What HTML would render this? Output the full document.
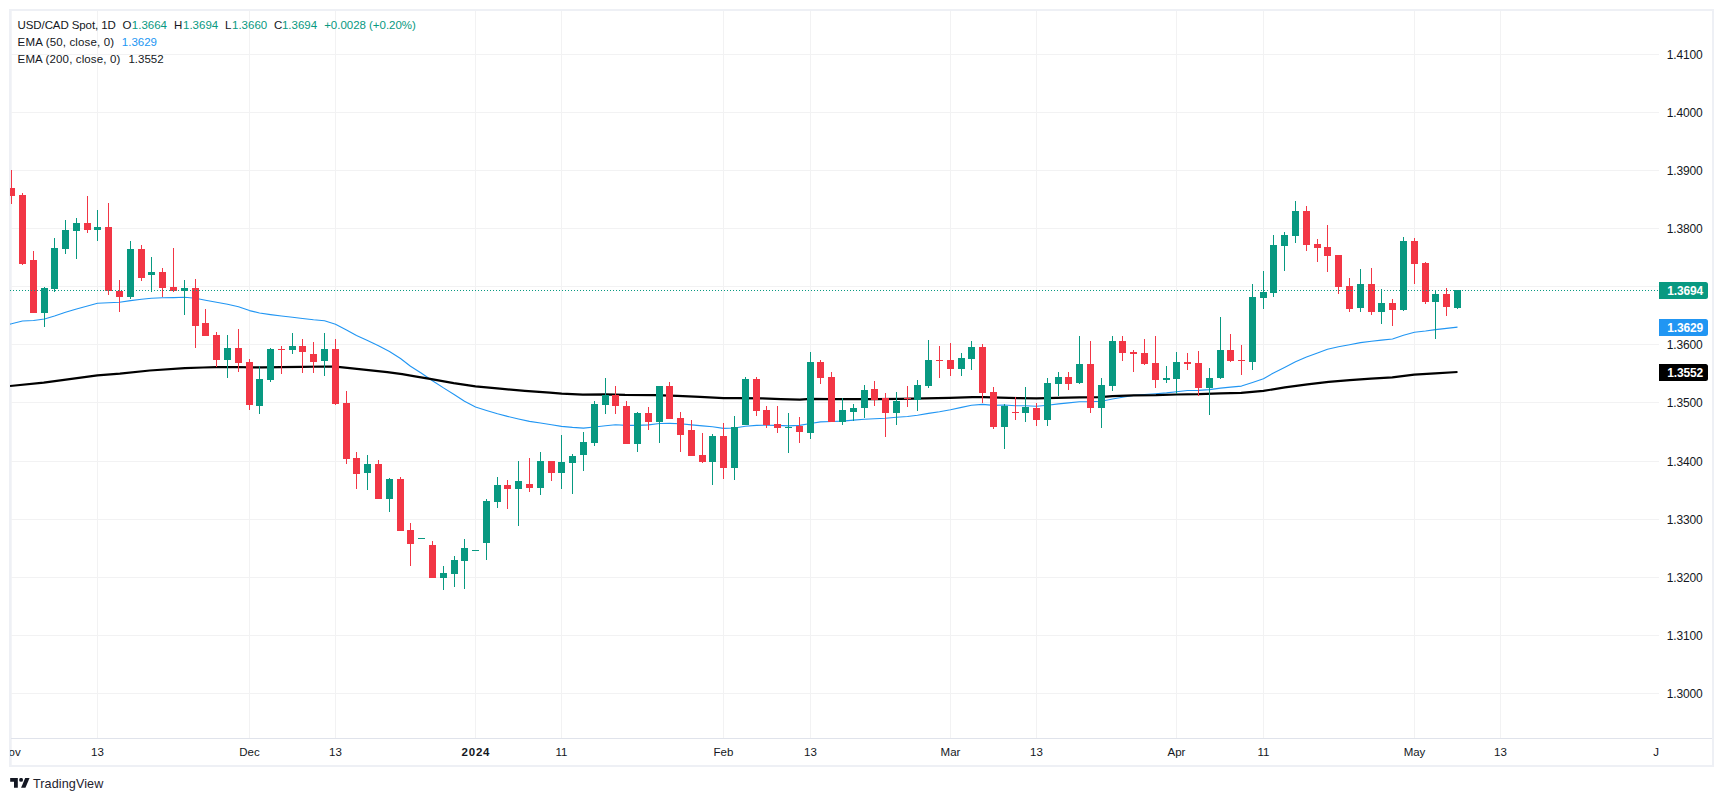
<!DOCTYPE html>
<html lang="en"><head><meta charset="utf-8"><title>USD/CAD Spot 1D - TradingView</title>
<style>
html,body{margin:0;padding:0;background:#fff;}
body{width:1723px;height:801px;position:relative;overflow:hidden;font-family:"Liberation Sans",sans-serif;font-size:12px;color:#131722;}
#frame{position:absolute;left:9px;top:9px;width:1701px;height:754px;border:2px solid #eef0f5;}
#chart{position:absolute;left:0;top:0;}
.lg{position:absolute;left:0;white-space:nowrap;line-height:16px;height:16px;font-size:11.5px;}
.lg span{position:absolute;top:0;white-space:nowrap;}
.g{color:#089981} .bl{color:#2196f3}
#taxis{position:absolute;left:10px;top:739px;width:1649px;font-size:11.5px;height:26px;overflow:hidden;}
#tline{position:absolute;left:11px;top:738px;width:1701px;height:1px;background:#e0e3eb;}
.tl{position:absolute;top:6px;width:60px;text-align:center;line-height:14px;white-space:nowrap;}
.tl.b{font-weight:bold;letter-spacing:0.8px;text-indent:0.8px}
.pl{position:absolute;left:1666.7px;line-height:14px;white-space:nowrap;font-size:12px;letter-spacing:-0.15px}
.tag{position:absolute;left:1659px;width:49px;height:17px;line-height:18px;color:#fff;font-weight:bold;border-radius:0 2.5px 2.5px 0;text-indent:8.2px;white-space:nowrap;font-size:12px;letter-spacing:-0.15px;overflow:hidden}
#logo{position:absolute;left:10px;top:778px;}
#brand{position:absolute;left:33px;top:776px;letter-spacing:0.1px;font-size:12.6px;line-height:16px;color:#1e222d;white-space:nowrap;}
</style></head><body>
<div id="frame"></div><div style="position:absolute;left:11px;top:11px;width:1px;height:754px;background:#f3f4f7"></div>
<svg id="chart" width="1723" height="801" viewBox="0 0 1723 801">
<defs><clipPath id="pc"><rect x="10" y="11" width="1649" height="727"/></clipPath></defs>
<rect x="11" y="54" width="1648" height="1" fill="#f2f2f3"/>
<rect x="11" y="112" width="1648" height="1" fill="#f2f2f3"/>
<rect x="11" y="170" width="1648" height="1" fill="#f2f2f3"/>
<rect x="11" y="228" width="1648" height="1" fill="#f2f2f3"/>
<rect x="11" y="286" width="1648" height="1" fill="#f2f2f3"/>
<rect x="11" y="344" width="1648" height="1" fill="#f2f2f3"/>
<rect x="11" y="402" width="1648" height="1" fill="#f2f2f3"/>
<rect x="11" y="461" width="1648" height="1" fill="#f2f2f3"/>
<rect x="11" y="519" width="1648" height="1" fill="#f2f2f3"/>
<rect x="11" y="577" width="1648" height="1" fill="#f2f2f3"/>
<rect x="11" y="635" width="1648" height="1" fill="#f2f2f3"/>
<rect x="11" y="693" width="1648" height="1" fill="#f2f2f3"/>
<rect x="97" y="11" width="1" height="727" fill="#f2f2f3"/>
<rect x="249" y="11" width="1" height="727" fill="#f2f2f3"/>
<rect x="335" y="11" width="1" height="727" fill="#f2f2f3"/>
<rect x="475" y="11" width="1" height="727" fill="#f2f2f3"/>
<rect x="561" y="11" width="1" height="727" fill="#f2f2f3"/>
<rect x="723" y="11" width="1" height="727" fill="#f2f2f3"/>
<rect x="810" y="11" width="1" height="727" fill="#f2f2f3"/>
<rect x="950" y="11" width="1" height="727" fill="#f2f2f3"/>
<rect x="1036" y="11" width="1" height="727" fill="#f2f2f3"/>
<rect x="1176" y="11" width="1" height="727" fill="#f2f2f3"/>
<rect x="1263" y="11" width="1" height="727" fill="#f2f2f3"/>
<rect x="1414" y="11" width="1" height="727" fill="#f2f2f3"/>
<rect x="1500" y="11" width="1" height="727" fill="#f2f2f3"/>
<g clip-path="url(#pc)" fill="none" stroke-linejoin="round" stroke-linecap="butt">
<path d="M10 324.1 L11.5 323.8 L22.5 321 L33.5 320.5 L44.5 319 L54.5 316 L65.5 312.3 L76.5 309 L87.5 306 L97.5 303.3 L108.5 302.8 L119.5 302.3 L130.5 300.6 L141.5 299.3 L151.5 298.3 L162.5 297.8 L173.5 297.6 L184.5 297.3 L195.5 298.3 L205.5 300.3 L216.5 302.3 L227.5 304.3 L238.5 306.8 L249.5 310.6 L259.5 313 L270.5 314.6 L281.5 316 L292.5 317.3 L302.5 318.5 L313.5 319.8 L324.5 320.8 L335.5 324.2 L346.5 330 L356.5 335.6 L367.5 340.5 L378.5 345.8 L389.5 351.5 L400.5 358.5 L410.5 366.2 L421.5 373.2 L432.5 380.7 L443.5 387.9 L454.5 394.7 L464.5 401.2 L475.5 407 L486.5 410.5 L497.5 413.8 L507.5 416.4 L518.5 419 L529.5 421.4 L540.5 423 L551.5 424.8 L561.5 426.4 L572.5 427.4 L583.5 428.1 L594.5 427 L605.5 425.8 L615.5 424.7 L626.5 425.4 L637.5 425.4 L648.5 424.9 L659.5 423.5 L669.5 423.4 L680.5 423.7 L691.5 424.9 L702.5 425.9 L712.5 426.7 L723.5 428.4 L734.5 428 L745.5 426.2 L756.5 425.4 L766.5 425.2 L777.5 425.4 L788.5 425.9 L799.5 425.4 L810.5 423.5 L820.5 421.9 L831.5 421.5 L842.5 421.1 L853.5 420.1 L864.5 419.2 L874.5 418.7 L885.5 418.2 L896.5 417.3 L907.5 416.5 L917.5 415.3 L928.5 413.4 L939.5 411.7 L950.5 409.7 L961.5 407.4 L971.5 405.2 L982.5 404.4 L993.5 405.4 L1004.5 405 L1015.5 405.7 L1025.5 405.7 L1036.5 406.3 L1047.5 405.3 L1058.5 403.9 L1068.5 402.9 L1079.5 401.7 L1090.5 401.8 L1101.5 401.3 L1112.5 399 L1122.5 397.2 L1133.5 395.4 L1144.5 394.5 L1155.5 393.7 L1166.5 392.9 L1176.5 391.7 L1187.5 390.5 L1198.5 390.4 L1209.5 389.6 L1220.5 388.1 L1230.5 387.1 L1241.5 386.1 L1252.5 382.4 L1263.5 378.65 L1273.5 373 L1284.5 367.4 L1295.5 361.8 L1306.5 357.05 L1317.5 353.06 L1327.5 349.3 L1338.5 346.8 L1349.5 344.7 L1360.5 342.6 L1371.5 341.3 L1381.5 340.1 L1392.5 338.95 L1403.5 335.2 L1414.5 332.2 L1425.5 331 L1435.5 329.6 L1446.5 328.4 L1457.5 327.1" stroke="#2196f3" stroke-width="1.1"/>
<path d="M10 386 L43.7 382.6 L97.4 375.3 L119.9 373.7 L149.8 370.5 L184.8 368.1 L203 367.5 L216.2 367.2 L237.5 367 L250 367.4 L262.4 367.3 L281.1 367.1 L302.4 366.8 L324.8 366.5 L335.5 366.6 L349.8 368.1 L368.5 370.2 L387.3 372.1 L402.2 374.2 L415 376.4 L430 378.95 L453.7 383.1 L475.5 386.4 L499.9 388.7 L524.8 390.9 L549.8 392.7 L561.7 393.6 L582.9 394.6 L605.4 394.3 L625 394.96 L654.9 395.2 L677.4 395.95 L699.9 396.95 L723.6 398.2 L737.3 398.1 L762.3 398.45 L781 399.2 L799.8 399.7 L810.5 398.8 L831.2 399.05 L850 399.2 L875 399.2 L900 398.9 L924.8 398.4 L949.8 397.8 L972.3 397.2 L983.5 397.2 L999.8 397.7 L1018.7 398.2 L1036.5 398.3 L1056.2 397.8 L1079.9 397.3 L1099.9 397.2 L1112.4 396.2 L1133.6 395.4 L1156 395.2 L1176.7 394.5 L1198.5 394.2 L1220.5 393.4 L1241.2 392.9 L1263.4 390.9 L1284.9 387.4 L1307.4 384.3 L1328.6 381.9 L1349.8 380.15 L1371 378.65 L1392.3 377.4 L1414.2 374.7 L1435.2 373.3 L1457.5 372" stroke="#000" stroke-width="2.2"/>
</g>
<g clip-path="url(#pc)" shape-rendering="crispEdges">
<rect x="11" y="170" width="1" height="34" fill="#f23645"/>
<rect x="8" y="188" width="7" height="8" fill="#f23645"/>
<rect x="22" y="193" width="1" height="72" fill="#f23645"/>
<rect x="19" y="195" width="7" height="69" fill="#f23645"/>
<rect x="33" y="251" width="1" height="62" fill="#f23645"/>
<rect x="30" y="260" width="7" height="53" fill="#f23645"/>
<rect x="44" y="287" width="1" height="40" fill="#089981"/>
<rect x="41" y="288" width="7" height="25" fill="#089981"/>
<rect x="54" y="238" width="1" height="54" fill="#089981"/>
<rect x="51" y="248" width="7" height="41" fill="#089981"/>
<rect x="65" y="220" width="1" height="34" fill="#089981"/>
<rect x="62" y="230" width="7" height="19" fill="#089981"/>
<rect x="76" y="218" width="1" height="41" fill="#089981"/>
<rect x="73" y="223" width="7" height="8" fill="#089981"/>
<rect x="87" y="196" width="1" height="37" fill="#f23645"/>
<rect x="84" y="223" width="7" height="7" fill="#f23645"/>
<rect x="97" y="210" width="1" height="31" fill="#089981"/>
<rect x="94" y="227" width="7" height="3" fill="#089981"/>
<rect x="108" y="203" width="1" height="92" fill="#f23645"/>
<rect x="105" y="227" width="7" height="64" fill="#f23645"/>
<rect x="119" y="280" width="1" height="32" fill="#f23645"/>
<rect x="116" y="291" width="7" height="6" fill="#f23645"/>
<rect x="130" y="241" width="1" height="58" fill="#089981"/>
<rect x="127" y="249" width="7" height="48" fill="#089981"/>
<rect x="141" y="245" width="1" height="36" fill="#f23645"/>
<rect x="138" y="249" width="7" height="29" fill="#f23645"/>
<rect x="151" y="257" width="1" height="35" fill="#089981"/>
<rect x="148" y="272" width="7" height="3" fill="#089981"/>
<rect x="162" y="268" width="1" height="29" fill="#f23645"/>
<rect x="159" y="272" width="7" height="16" fill="#f23645"/>
<rect x="173" y="248" width="1" height="44" fill="#f23645"/>
<rect x="170" y="287" width="7" height="4" fill="#f23645"/>
<rect x="184" y="280" width="1" height="35" fill="#089981"/>
<rect x="181" y="288" width="7" height="3" fill="#089981"/>
<rect x="195" y="279" width="1" height="69" fill="#f23645"/>
<rect x="192" y="288" width="7" height="38" fill="#f23645"/>
<rect x="205" y="309" width="1" height="27" fill="#f23645"/>
<rect x="202" y="323" width="7" height="13" fill="#f23645"/>
<rect x="216" y="332" width="1" height="35" fill="#f23645"/>
<rect x="213" y="335" width="7" height="25" fill="#f23645"/>
<rect x="227" y="335" width="1" height="43" fill="#089981"/>
<rect x="224" y="348" width="7" height="12" fill="#089981"/>
<rect x="238" y="329" width="1" height="43" fill="#f23645"/>
<rect x="235" y="348" width="7" height="15" fill="#f23645"/>
<rect x="249" y="359" width="1" height="51" fill="#f23645"/>
<rect x="246" y="362" width="7" height="43" fill="#f23645"/>
<rect x="259" y="366" width="1" height="48" fill="#089981"/>
<rect x="256" y="379" width="7" height="27" fill="#089981"/>
<rect x="270" y="348" width="1" height="34" fill="#089981"/>
<rect x="267" y="349" width="7" height="31" fill="#089981"/>
<rect x="281" y="346" width="1" height="28" fill="#f23645"/>
<rect x="278" y="349" width="7" height="1" fill="#f23645"/>
<rect x="292" y="333" width="1" height="21" fill="#089981"/>
<rect x="289" y="346" width="7" height="4" fill="#089981"/>
<rect x="302" y="339" width="1" height="34" fill="#f23645"/>
<rect x="299" y="346" width="7" height="6" fill="#f23645"/>
<rect x="313" y="342" width="1" height="31" fill="#f23645"/>
<rect x="310" y="354" width="7" height="8" fill="#f23645"/>
<rect x="324" y="333" width="1" height="43" fill="#089981"/>
<rect x="321" y="349" width="7" height="12" fill="#089981"/>
<rect x="335" y="339" width="1" height="66" fill="#f23645"/>
<rect x="332" y="349" width="7" height="55" fill="#f23645"/>
<rect x="346" y="391" width="1" height="73" fill="#f23645"/>
<rect x="343" y="403" width="7" height="56" fill="#f23645"/>
<rect x="356" y="452" width="1" height="37" fill="#f23645"/>
<rect x="353" y="458" width="7" height="16" fill="#f23645"/>
<rect x="367" y="455" width="1" height="35" fill="#089981"/>
<rect x="364" y="464" width="7" height="9" fill="#089981"/>
<rect x="378" y="460" width="1" height="39" fill="#f23645"/>
<rect x="375" y="464" width="7" height="35" fill="#f23645"/>
<rect x="389" y="478" width="1" height="34" fill="#089981"/>
<rect x="386" y="479" width="7" height="20" fill="#089981"/>
<rect x="400" y="477" width="1" height="54" fill="#f23645"/>
<rect x="397" y="479" width="7" height="52" fill="#f23645"/>
<rect x="410" y="523" width="1" height="43" fill="#f23645"/>
<rect x="407" y="530" width="7" height="14" fill="#f23645"/>
<rect x="421" y="538" width="1" height="1" fill="#089981"/>
<rect x="418" y="538" width="7" height="1" fill="#089981"/>
<rect x="432" y="541" width="1" height="37" fill="#f23645"/>
<rect x="429" y="545" width="7" height="33" fill="#f23645"/>
<rect x="443" y="566" width="1" height="24" fill="#089981"/>
<rect x="440" y="573" width="7" height="5" fill="#089981"/>
<rect x="454" y="556" width="1" height="31" fill="#089981"/>
<rect x="451" y="560" width="7" height="14" fill="#089981"/>
<rect x="464" y="539" width="1" height="50" fill="#089981"/>
<rect x="461" y="548" width="7" height="13" fill="#089981"/>
<rect x="475" y="550" width="1" height="1" fill="#089981"/>
<rect x="472" y="550" width="7" height="1" fill="#089981"/>
<rect x="486" y="499" width="1" height="61" fill="#089981"/>
<rect x="483" y="501" width="7" height="42" fill="#089981"/>
<rect x="497" y="477" width="1" height="31" fill="#089981"/>
<rect x="494" y="485" width="7" height="17" fill="#089981"/>
<rect x="507" y="480" width="1" height="29" fill="#f23645"/>
<rect x="504" y="485" width="7" height="4" fill="#f23645"/>
<rect x="518" y="461" width="1" height="65" fill="#089981"/>
<rect x="515" y="481" width="7" height="8" fill="#089981"/>
<rect x="529" y="458" width="1" height="34" fill="#f23645"/>
<rect x="526" y="484" width="7" height="4" fill="#f23645"/>
<rect x="540" y="452" width="1" height="43" fill="#089981"/>
<rect x="537" y="461" width="7" height="27" fill="#089981"/>
<rect x="551" y="461" width="1" height="20" fill="#f23645"/>
<rect x="548" y="461" width="7" height="12" fill="#f23645"/>
<rect x="561" y="435" width="1" height="54" fill="#089981"/>
<rect x="558" y="462" width="7" height="11" fill="#089981"/>
<rect x="572" y="454" width="1" height="40" fill="#089981"/>
<rect x="569" y="456" width="7" height="7" fill="#089981"/>
<rect x="583" y="432" width="1" height="39" fill="#089981"/>
<rect x="580" y="442" width="7" height="13" fill="#089981"/>
<rect x="594" y="401" width="1" height="45" fill="#089981"/>
<rect x="591" y="404" width="7" height="39" fill="#089981"/>
<rect x="605" y="378" width="1" height="36" fill="#089981"/>
<rect x="602" y="395" width="7" height="10" fill="#089981"/>
<rect x="615" y="386" width="1" height="28" fill="#f23645"/>
<rect x="612" y="395" width="7" height="11" fill="#f23645"/>
<rect x="626" y="401" width="1" height="43" fill="#f23645"/>
<rect x="623" y="406" width="7" height="38" fill="#f23645"/>
<rect x="637" y="412" width="1" height="40" fill="#089981"/>
<rect x="634" y="413" width="7" height="31" fill="#089981"/>
<rect x="648" y="407" width="1" height="23" fill="#f23645"/>
<rect x="645" y="413" width="7" height="9" fill="#f23645"/>
<rect x="659" y="386" width="1" height="57" fill="#089981"/>
<rect x="656" y="386" width="7" height="36" fill="#089981"/>
<rect x="669" y="382" width="1" height="37" fill="#f23645"/>
<rect x="666" y="386" width="7" height="33" fill="#f23645"/>
<rect x="680" y="412" width="1" height="40" fill="#f23645"/>
<rect x="677" y="418" width="7" height="17" fill="#f23645"/>
<rect x="691" y="420" width="1" height="36" fill="#f23645"/>
<rect x="688" y="430" width="7" height="26" fill="#f23645"/>
<rect x="702" y="433" width="1" height="30" fill="#f23645"/>
<rect x="699" y="455" width="7" height="7" fill="#f23645"/>
<rect x="712" y="434" width="1" height="51" fill="#089981"/>
<rect x="709" y="436" width="7" height="26" fill="#089981"/>
<rect x="723" y="423" width="1" height="56" fill="#f23645"/>
<rect x="720" y="436" width="7" height="32" fill="#f23645"/>
<rect x="734" y="416" width="1" height="64" fill="#089981"/>
<rect x="731" y="427" width="7" height="41" fill="#089981"/>
<rect x="745" y="377" width="1" height="48" fill="#089981"/>
<rect x="742" y="379" width="7" height="46" fill="#089981"/>
<rect x="756" y="377" width="1" height="39" fill="#f23645"/>
<rect x="753" y="379" width="7" height="32" fill="#f23645"/>
<rect x="766" y="406" width="1" height="22" fill="#f23645"/>
<rect x="763" y="410" width="7" height="15" fill="#f23645"/>
<rect x="777" y="406" width="1" height="27" fill="#f23645"/>
<rect x="774" y="424" width="7" height="4" fill="#f23645"/>
<rect x="788" y="413" width="1" height="40" fill="#089981"/>
<rect x="785" y="427" width="7" height="1" fill="#089981"/>
<rect x="799" y="417" width="1" height="26" fill="#f23645"/>
<rect x="796" y="426" width="7" height="6" fill="#f23645"/>
<rect x="810" y="352" width="1" height="87" fill="#089981"/>
<rect x="807" y="362" width="7" height="71" fill="#089981"/>
<rect x="820" y="360" width="1" height="24" fill="#f23645"/>
<rect x="817" y="362" width="7" height="16" fill="#f23645"/>
<rect x="831" y="372" width="1" height="50" fill="#f23645"/>
<rect x="828" y="377" width="7" height="45" fill="#f23645"/>
<rect x="842" y="398" width="1" height="27" fill="#089981"/>
<rect x="839" y="410" width="7" height="12" fill="#089981"/>
<rect x="853" y="404" width="1" height="17" fill="#089981"/>
<rect x="850" y="408" width="7" height="4" fill="#089981"/>
<rect x="864" y="385" width="1" height="33" fill="#089981"/>
<rect x="861" y="390" width="7" height="18" fill="#089981"/>
<rect x="874" y="381" width="1" height="25" fill="#f23645"/>
<rect x="871" y="389" width="7" height="11" fill="#f23645"/>
<rect x="885" y="393" width="1" height="44" fill="#f23645"/>
<rect x="882" y="398" width="7" height="15" fill="#f23645"/>
<rect x="896" y="392" width="1" height="33" fill="#089981"/>
<rect x="893" y="401" width="7" height="12" fill="#089981"/>
<rect x="907" y="386" width="1" height="21" fill="#f23645"/>
<rect x="904" y="398" width="7" height="1" fill="#f23645"/>
<rect x="917" y="380" width="1" height="31" fill="#089981"/>
<rect x="914" y="385" width="7" height="15" fill="#089981"/>
<rect x="928" y="340" width="1" height="48" fill="#089981"/>
<rect x="925" y="360" width="7" height="26" fill="#089981"/>
<rect x="939" y="346" width="1" height="32" fill="#f23645"/>
<rect x="936" y="360" width="7" height="1" fill="#f23645"/>
<rect x="950" y="343" width="1" height="33" fill="#f23645"/>
<rect x="947" y="360" width="7" height="9" fill="#f23645"/>
<rect x="961" y="353" width="1" height="23" fill="#089981"/>
<rect x="958" y="358" width="7" height="11" fill="#089981"/>
<rect x="971" y="341" width="1" height="29" fill="#089981"/>
<rect x="968" y="347" width="7" height="12" fill="#089981"/>
<rect x="982" y="344" width="1" height="59" fill="#f23645"/>
<rect x="979" y="347" width="7" height="46" fill="#f23645"/>
<rect x="993" y="387" width="1" height="42" fill="#f23645"/>
<rect x="990" y="392" width="7" height="35" fill="#f23645"/>
<rect x="1004" y="404" width="1" height="45" fill="#089981"/>
<rect x="1001" y="406" width="7" height="21" fill="#089981"/>
<rect x="1015" y="397" width="1" height="23" fill="#f23645"/>
<rect x="1012" y="412" width="7" height="1" fill="#f23645"/>
<rect x="1025" y="387" width="1" height="35" fill="#089981"/>
<rect x="1022" y="407" width="7" height="6" fill="#089981"/>
<rect x="1036" y="403" width="1" height="23" fill="#f23645"/>
<rect x="1033" y="408" width="7" height="12" fill="#f23645"/>
<rect x="1047" y="378" width="1" height="48" fill="#089981"/>
<rect x="1044" y="383" width="7" height="37" fill="#089981"/>
<rect x="1058" y="372" width="1" height="24" fill="#089981"/>
<rect x="1055" y="377" width="7" height="7" fill="#089981"/>
<rect x="1068" y="372" width="1" height="18" fill="#f23645"/>
<rect x="1065" y="377" width="7" height="7" fill="#f23645"/>
<rect x="1079" y="336" width="1" height="48" fill="#089981"/>
<rect x="1076" y="364" width="7" height="19" fill="#089981"/>
<rect x="1090" y="341" width="1" height="72" fill="#f23645"/>
<rect x="1087" y="364" width="7" height="44" fill="#f23645"/>
<rect x="1101" y="378" width="1" height="50" fill="#089981"/>
<rect x="1098" y="385" width="7" height="23" fill="#089981"/>
<rect x="1112" y="336" width="1" height="55" fill="#089981"/>
<rect x="1109" y="341" width="7" height="45" fill="#089981"/>
<rect x="1122" y="336" width="1" height="25" fill="#f23645"/>
<rect x="1119" y="341" width="7" height="12" fill="#f23645"/>
<rect x="1133" y="350" width="1" height="22" fill="#f23645"/>
<rect x="1130" y="352" width="7" height="2" fill="#f23645"/>
<rect x="1144" y="339" width="1" height="26" fill="#f23645"/>
<rect x="1141" y="353" width="7" height="11" fill="#f23645"/>
<rect x="1155" y="336" width="1" height="52" fill="#f23645"/>
<rect x="1152" y="363" width="7" height="17" fill="#f23645"/>
<rect x="1166" y="366" width="1" height="17" fill="#089981"/>
<rect x="1163" y="378" width="7" height="2" fill="#089981"/>
<rect x="1176" y="352" width="1" height="42" fill="#089981"/>
<rect x="1173" y="362" width="7" height="17" fill="#089981"/>
<rect x="1187" y="353" width="1" height="17" fill="#f23645"/>
<rect x="1184" y="362" width="7" height="2" fill="#f23645"/>
<rect x="1198" y="351" width="1" height="45" fill="#f23645"/>
<rect x="1195" y="363" width="7" height="25" fill="#f23645"/>
<rect x="1209" y="368" width="1" height="47" fill="#089981"/>
<rect x="1206" y="378" width="7" height="10" fill="#089981"/>
<rect x="1220" y="317" width="1" height="62" fill="#089981"/>
<rect x="1217" y="350" width="7" height="28" fill="#089981"/>
<rect x="1230" y="334" width="1" height="28" fill="#f23645"/>
<rect x="1227" y="350" width="7" height="11" fill="#f23645"/>
<rect x="1241" y="345" width="1" height="30" fill="#f23645"/>
<rect x="1238" y="360" width="7" height="1" fill="#f23645"/>
<rect x="1252" y="284" width="1" height="86" fill="#089981"/>
<rect x="1249" y="297" width="7" height="65" fill="#089981"/>
<rect x="1263" y="271" width="1" height="38" fill="#089981"/>
<rect x="1260" y="292" width="7" height="6" fill="#089981"/>
<rect x="1273" y="235" width="1" height="62" fill="#089981"/>
<rect x="1270" y="245" width="7" height="48" fill="#089981"/>
<rect x="1284" y="232" width="1" height="39" fill="#089981"/>
<rect x="1281" y="235" width="7" height="11" fill="#089981"/>
<rect x="1295" y="201" width="1" height="42" fill="#089981"/>
<rect x="1292" y="211" width="7" height="25" fill="#089981"/>
<rect x="1306" y="206" width="1" height="45" fill="#f23645"/>
<rect x="1303" y="211" width="7" height="34" fill="#f23645"/>
<rect x="1317" y="239" width="1" height="23" fill="#f23645"/>
<rect x="1314" y="244" width="7" height="4" fill="#f23645"/>
<rect x="1327" y="225" width="1" height="47" fill="#f23645"/>
<rect x="1324" y="247" width="7" height="9" fill="#f23645"/>
<rect x="1338" y="255" width="1" height="39" fill="#f23645"/>
<rect x="1335" y="255" width="7" height="32" fill="#f23645"/>
<rect x="1349" y="278" width="1" height="34" fill="#f23645"/>
<rect x="1346" y="286" width="7" height="23" fill="#f23645"/>
<rect x="1360" y="269" width="1" height="43" fill="#089981"/>
<rect x="1357" y="284" width="7" height="24" fill="#089981"/>
<rect x="1371" y="268" width="1" height="47" fill="#f23645"/>
<rect x="1368" y="284" width="7" height="28" fill="#f23645"/>
<rect x="1381" y="289" width="1" height="35" fill="#089981"/>
<rect x="1378" y="303" width="7" height="9" fill="#089981"/>
<rect x="1392" y="299" width="1" height="27" fill="#f23645"/>
<rect x="1389" y="303" width="7" height="7" fill="#f23645"/>
<rect x="1403" y="237" width="1" height="74" fill="#089981"/>
<rect x="1400" y="241" width="7" height="69" fill="#089981"/>
<rect x="1414" y="238" width="1" height="46" fill="#f23645"/>
<rect x="1411" y="241" width="7" height="23" fill="#f23645"/>
<rect x="1425" y="262" width="1" height="42" fill="#f23645"/>
<rect x="1422" y="263" width="7" height="39" fill="#f23645"/>
<rect x="1435" y="290" width="1" height="49" fill="#089981"/>
<rect x="1432" y="294" width="7" height="8" fill="#089981"/>
<rect x="1446" y="288" width="1" height="28" fill="#f23645"/>
<rect x="1443" y="294" width="7" height="13" fill="#f23645"/>
<rect x="1457" y="290" width="1" height="19" fill="#089981"/>
<rect x="1454" y="290" width="7" height="18" fill="#089981"/>
</g>
<line x1="10" y1="290.5" x2="1659" y2="290.5" stroke="#089981" stroke-width="1" stroke-dasharray="1 2"/>
</svg>
<div id="tline"></div>
<div class="lg" style="top:17px"><span style="left:17.6px;letter-spacing:-0.1px">USD/CAD Spot, 1D</span><span style="left:122.5px">O</span><span class="g" style="left:131.8px">1.3664</span><span style="left:174.1px">H</span><span class="g" style="left:183px">1.3694</span><span style="left:225.1px">L</span><span class="g" style="left:232px">1.3660</span><span style="left:274px">C</span><span class="g" style="left:281.9px">1.3694</span><span class="g" style="left:324.2px;letter-spacing:-0.03px">+0.0028 (+0.20%)</span></div>
<div class="lg" style="top:34px"><span style="left:17.6px;letter-spacing:0.15px">EMA (50, close, 0)</span><span class="bl" style="left:121.8px">1.3629</span></div>
<div class="lg" style="top:51px"><span style="left:17.6px;letter-spacing:0.13px">EMA (200, close, 0)</span><span style="left:128.4px">1.3552</span></div>
<div id="taxis"><span class="tl" style="left:57.5px">13</span><span class="tl" style="left:209.5px">Dec</span><span class="tl" style="left:295.5px">13</span><span class="tl b" style="left:435.5px">2024</span><span class="tl" style="left:521.5px">11</span><span class="tl" style="left:683.5px">Feb</span><span class="tl" style="left:770.5px">13</span><span class="tl" style="left:910.5px">Mar</span><span class="tl" style="left:996.5px">13</span><span class="tl" style="left:1136.5px">Apr</span><span class="tl" style="left:1223.5px">11</span><span class="tl" style="left:1374.5px">May</span><span class="tl" style="left:1460.5px">13</span><span class="tl" style="left:-29.5px">Nov</span><span class="tl" style="left:1622.5px">Jun</span></div>
<span class="pl" style="top:47.5px">1.4100</span><span class="pl" style="top:105.5px">1.4000</span><span class="pl" style="top:163.5px">1.3900</span><span class="pl" style="top:221.5px">1.3800</span><span class="pl" style="top:337.5px">1.3600</span><span class="pl" style="top:395.5px">1.3500</span><span class="pl" style="top:454.5px">1.3400</span><span class="pl" style="top:512.5px">1.3300</span><span class="pl" style="top:570.5px">1.3200</span><span class="pl" style="top:628.5px">1.3100</span><span class="pl" style="top:686.5px">1.3000</span>
<div class="tag" style="top:282px;background:#089981">1.3694</div>
<div class="tag" style="top:319px;background:#2196f3">1.3629</div>
<div class="tag" style="top:364px;background:#000">1.3552</div>
<svg id="logo" width="20" height="12" viewBox="0 4 36 22"><path fill="#131722" d="M14 22H7V11H0V4h14v18z"/><circle cx="20" cy="7.5" r="3.6" fill="#131722"/><path fill="#131722" d="M28 22h-8l7.5-18h8L28 22z"/></svg>
<div id="brand">TradingView</div>
</body></html>
